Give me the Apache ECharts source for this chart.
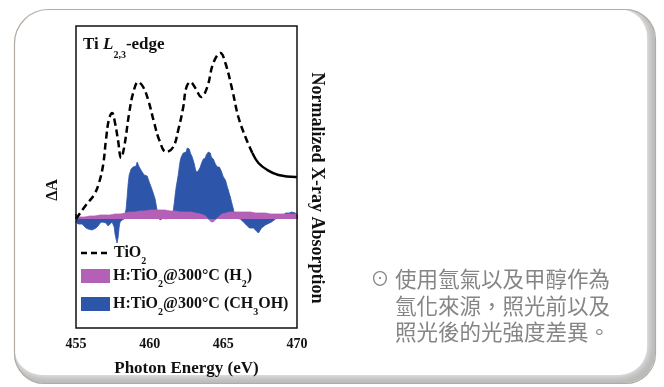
<!DOCTYPE html>
<html><head><meta charset="utf-8">
<script src="https://cdn.jsdelivr.net/npm/echarts@6/dist/echarts.min.js"></script>
<style>html,body{margin:0;padding:0;background:#fff}#c{width:664px;height:387px}</style>
</head><body><div id="c"></div>
<script>
// ---- data ----
const xTicks = [455, 460, 465, 470];

// TiO2 reference spectrum (normalized absorption, arbitrary units)
const tio2E = [455.00,455.68,456.22,456.56,456.84,457.04,457.24,457.45,457.65,457.86,458.06,458.27,458.61,458.88,459.22,459.56,459.90,460.31,460.65,461.12,461.60,461.94,462.28,462.48,462.76,463.10,463.50,463.91,464.32,464.80,465.14,465.61,466.02,466.50,466.97,467.38,467.99,468.74,469.90,470.00];
const tio2V = [0,14,24,36,54,80,100,106,96,78,61,72,106,126,137,132,119,96,79,67,72,89,112,131,137,131,122,132,156,166,156,129,102,82,66,56,49,44,42,42];
const tio2DashEnd = 466.97;

// H:TiO2@300°C (CH3OH) difference spectrum
const blueE = [455.00,455.14,455.27,455.41,455.54,455.68,455.82,455.95,456.09,456.22,456.36,456.50,456.63,456.77,456.90,457.04,457.18,457.31,457.45,457.59,457.65,457.72,457.79,457.86,457.93,457.99,458.13,458.27,
458.33,458.40,458.47,458.54,458.61,458.67,458.74,458.81,458.88,458.95,459.01,459.08,459.15,459.22,459.29,459.35,459.42,459.49,459.56,459.63,459.69,459.76,459.83,459.90,459.97,460.03,460.10,460.17,460.24,460.31,460.37,460.44,460.51,460.58,460.65,
460.71,460.92,461.12,461.33,461.53,
461.60,461.67,461.73,461.80,461.87,461.94,462.01,462.07,462.14,462.21,462.28,462.35,462.41,462.48,462.55,462.62,462.69,462.76,462.82,462.89,462.96,463.03,463.10,463.16,463.23,463.30,463.37,463.44,463.50,463.57,463.64,463.71,463.78,463.84,463.91,463.98,464.05,464.12,464.18,464.25,464.32,464.39,464.46,464.52,464.59,464.66,464.73,464.80,464.86,464.93,465.00,465.07,465.14,465.20,465.27,465.34,465.41,465.48,465.54,465.61,465.68,465.75,465.82,465.88,
466.16,466.36,466.50,466.63,466.77,466.90,467.04,467.18,467.31,467.38,467.45,467.59,467.72,467.86,467.99,468.13,468.27,468.40,468.54,468.74,468.95,469.08,469.22,469.35,469.49,469.63,469.76,469.90,470.00];
const blueV = [-3,-5,-6,-5,-7,-9,-10,-8,-11,-12,-9,-7,-4,-3,-2,-4,-7,-5,-3,-8,-15,-20,-24,-18,-8,-3,-1,0,
2,10,22,35,44,46,50,48,52,50,54,53,57,55,52,50,51,47,46,44,45,42,43,40,37,36,32,30,26,24,20,14,8,2,0,
-1,1,0,1,3,
8,16,24,32,38,44,52,58,62,64,66,65,68,67,71,69,70,66,67,62,60,55,50,47,45,48,46,52,55,57,60,62,61,64,63,67,65,66,62,64,60,58,55,56,52,54,52,51,48,45,42,40,39,36,32,29,25,22,18,14,10,5,1,0,
0,-3,-5,-7,-9,-10,-9,-11,-13,-14,-12,-9,-7,-6,-5,-4,-3,-1,0,1,2,4,6,7,6,7,5,6,4];

// H:TiO2@300°C (H2) difference spectrum
const purpleE = [455.00,455.27,455.61,455.95,456.29,456.63,456.97,457.31,457.65,457.99,458.33,458.67,459.01,459.35,459.69,460.03,460.37,460.71,461.05,461.39,461.73,462.07,462.41,462.76,463.10,463.44,463.78,463.98,464.12,464.25,464.46,464.66,464.93,465.20,465.48,465.82,466.16,466.50,466.84,467.18,467.52,467.86,468.20,468.54,468.88,469.22,469.56,470.00];
const purpleV = [1,2,2,3,3,4,4,4,5,5,6,7,7,8,8,9,9,9,9,8,8,7,7,7,6,5,3,0,-2,-3,-1,2,5,6,7,7,7,7,7,6,6,6,5,5,5,5,5,5];

// ---- build ----
const pairs = (E, V) => E.map((e, i) => [e, V[i]]);
const tio2 = pairs(tio2E, tio2V);
const tio2Dash = tio2.filter(p => p[0] <= tio2DashEnd);
const tio2Solid = tio2.filter(p => p[0] >= tio2DashEnd);

const SERIF = '"Liberation Serif", "Times New Roman", serif';
const BLUE = '#2d55aa';
const PURPLE = '#b360b6';
const GRAY_TXT = '#858585';

function subStyles(size, subSize, lh) {
  return {
    n: {fontSize: size, fontWeight: 'bold', fontFamily: SERIF, color: '#111', lineHeight: lh, verticalAlign: 'top'},
    i: {fontSize: size, fontWeight: 'bold', fontStyle: 'italic', fontFamily: SERIF, color: '#111', lineHeight: lh, verticalAlign: 'top'},
    s: {fontSize: subSize, fontWeight: 'bold', fontFamily: SERIF, color: '#111', lineHeight: lh, verticalAlign: 'bottom'}
  };
}
const legendRich = subStyles(16, 10, 21);
const titleRich = subStyles(17, 10, 24);

function richText(x, y, text, rich) {
  return {
    type: 'text', x: x, y: y, z: 10,
    style: {text: text, rich: rich, fill: '#111', align: 'left', verticalAlign: 'top',
            textAlign: 'left', textVerticalAlign: 'top', lineHeight: rich.n.lineHeight}
  };
}

const cardX = 14, cardY = 9, cardW = 641, cardH = 374;

const option = {
  animation: false,
  backgroundColor: '#ffffff',
  grid: {left: 76, top: 26, width: 221, height: 302, show: true, borderColor: '#111', borderWidth: 1.5, backgroundColor: 'transparent', z: 5},
  xAxis: {
    type: 'value', min: xTicks[0], max: xTicks[xTicks.length - 1], interval: 5,
    axisLine: {show: false},
    axisTick: {show: true, inside: true, length: 5, lineStyle: {color: '#111', width: 1.5}},
    splitLine: {show: false},
    axisLabel: {show: true, color: '#111', fontFamily: SERIF, fontWeight: 'bold', fontSize: 14, margin: 9,
                showMinLabel: true, showMaxLabel: true},
    name: 'Photon Energy (eV)', nameLocation: 'middle', nameGap: 32,
    nameTextStyle: {color: '#111', fontFamily: SERIF, fontWeight: 'bold', fontSize: 17}
  },
  yAxis: {
    type: 'value', min: -109, max: 193,
    axisLine: {show: false}, axisTick: {show: false}, axisLabel: {show: false}, splitLine: {show: false}
  },
  series: [
    {type: 'line', name: 'CH3OH', data: pairs(blueE, blueV), showSymbol: false, smooth: false, z: 2,
     lineStyle: {color: BLUE, width: 0.8}, areaStyle: {color: BLUE, opacity: 1, origin: 0}},
    {type: 'line', name: 'H2', data: pairs(purpleE, purpleV), showSymbol: false, smooth: 0.3, z: 3,
     lineStyle: {color: PURPLE, width: 0.8}, areaStyle: {color: PURPLE, opacity: 1, origin: 0}},
    {type: 'line', name: 'TiO2', data: tio2Dash, showSymbol: false, smooth: 0.4, z: 4,
     lineStyle: {color: '#000', width: 2.5, type: [7, 4]}},
    {type: 'line', name: 'TiO2 tail', data: tio2Solid, showSymbol: false, smooth: 0.4, z: 4,
     lineStyle: {color: '#000', width: 2.5}}
  ],
  graphic: {elements: [
    // card
    {type: 'rect', z: -3, shape: {x: cardX, y: cardY, width: cardW, height: cardH, r: [34, 30, 30, 30]},
     style: {fill: '#b9b9b9'}},
    {type: 'rect', z: -2, shape: {x: cardX, y: cardY, width: cardW - 8, height: cardH - 8, r: [34, 28, 28, 28]},
     style: {fill: '#ffffff', shadowBlur: 10, shadowColor: 'rgba(255,255,255,1)'}},
    {type: 'rect', z: -1, shape: {x: cardX + 0.5, y: cardY + 0.5, width: cardW, height: cardH, r: [34, 30, 30, 30]},
     style: {fill: 'none', stroke: '#b3aba1', lineWidth: 1.2}},
    // title
    richText(83, 36, '{n|Ti }{i|L}{s|2,3}{n|-edge}', titleRich),
    // legend
    {type: 'line', z: 10, shape: {x1: 81, y1: 253, x2: 108, y2: 253},
     style: {stroke: '#000', lineWidth: 2.5, lineDash: [6, 4]}},
    richText(114, 245, '{n|TiO}{s|2}', legendRich),
    {type: 'rect', z: 10, shape: {x: 81, y: 269, width: 29, height: 14}, style: {fill: PURPLE}},
    richText(113, 268, '{n|H:TiO}{s|2}{n|@300°C (H}{s|2}{n|)}', legendRich),
    {type: 'rect', z: 10, shape: {x: 81, y: 297, width: 29, height: 14}, style: {fill: BLUE}},
    richText(113, 296, '{n|H:TiO}{s|2}{n|@300°C (CH}{s|3}{n|OH)}', legendRich),
    // left axis title
    {type: 'text', z: 10, x: 53, y: 190, rotation: Math.PI / 2,
     style: {text: 'ΔA', fill: '#111', font: 'bold 16px ' + SERIF, align: 'center', verticalAlign: 'middle',
             textAlign: 'center', textVerticalAlign: 'middle'}},
    // right axis title
    {type: 'text', z: 10, x: 317, y: 188, rotation: -Math.PI / 2,
     style: {text: 'Normalized X-ray Absorption', fill: '#111', font: 'bold 18px ' + SERIF, align: 'center', verticalAlign: 'middle',
             textAlign: 'center', textVerticalAlign: 'middle'}},
    // Chinese notes
    {type: 'text', z: 10, x: 380, y: 279,
     style: {text: '⊙', fill: GRAY_TXT, font: '19px "Noto Sans CJK TC"', align: 'center', verticalAlign: 'middle',
             textAlign: 'center', textVerticalAlign: 'middle'}},
    {type: 'text', z: 10, x: 395, y: 279,
     style: {text: '使用氫氣以及甲醇作為', fill: GRAY_TXT, font: '21.5px "Noto Sans CJK TC"', align: 'left', verticalAlign: 'middle',
             textAlign: 'left', textVerticalAlign: 'middle'}},
    {type: 'text', z: 10, x: 395, y: 306,
     style: {text: '氫化來源，照光前以及', fill: GRAY_TXT, font: '21.5px "Noto Sans CJK TC"', align: 'left', verticalAlign: 'middle',
             textAlign: 'left', textVerticalAlign: 'middle'}},
    {type: 'text', z: 10, x: 395, y: 332,
     style: {text: '照光後的光強度差異。', fill: GRAY_TXT, font: '21.5px "Noto Sans CJK TC"', align: 'left', verticalAlign: 'middle',
             textAlign: 'left', textVerticalAlign: 'middle'}}
  ]}
};

const chart = echarts.init(document.getElementById('c'), null, {renderer: 'canvas'});
chart.setOption(option);
</script>
</body></html>
